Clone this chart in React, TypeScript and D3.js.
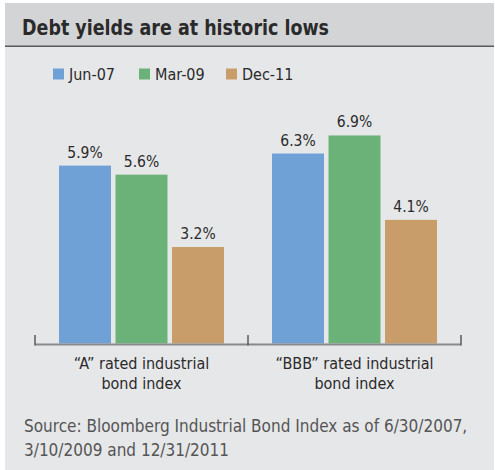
import React from "react";
import * as d3 from "d3";

const categories = ["A", "BBB"];
const categoryLines = [
  ["\u201CA\u201D rated industrial", "bond index"],
  ["\u201CBBB\u201D rated industrial", "bond index"],
];
const seriesNames = ["Jun-07", "Mar-09", "Dec-11"];
const seriesColors = ["#6fa0d6", "#6ab277", "#c99d69"];
const jun07 = [5.9, 6.3];
const mar09 = [5.6, 6.9];
const dec11 = [3.2, 4.1];
const seriesValues = [jun07, mar09, dec11];

const W = 495;
const H = 470;
const FONT = "'DejaVu Sans Condensed', 'Liberation Sans Narrow', sans-serif";

export default function App() {
  const x0 = d3.scaleBand<string>().domain(categories).range([35, 461]).padding(0);
  const x1 = d3
    .scaleBand<string>()
    .domain(seriesNames)
    .range([24, x0.bandwidth() - 24])
    .paddingInner(0.08)
    .paddingOuter(0);
  const y = d3.scaleLinear().domain([0, 8]).range([343.5, 102.3]);
  const baseY = y(0);

  return (
    <svg
      width={W}
      height={H}
      style={{ position: "absolute", left: 0, top: 0, display: "block" }}
      fontFamily={FONT}
    >
      <rect x={0} y={0} width={W} height={H} fill="#ffffff" />
      <rect x={5} y={3} width={489} height={467} fill="#e6e7e9" />
      <rect x={5} y={3} width={489} height={43} fill="#d3d4d6" />
      <rect x={5} y={45.5} width={489} height={1.5} fill="#5a5a5a" />
      <text
        x={22}
        y={35}
        fontSize={22}
        fontWeight="bold"
        fill="#2a2a2a"
        textLength={307}
        lengthAdjust="spacingAndGlyphs"
      >
        Debt yields are at historic lows
      </text>

      {/* legend */}
      {seriesNames.map((s, i) => {
        const lx = [53, 139, 226][i];
        return (
          <g key={s}>
            <rect x={lx} y={68.5} width={11} height={11} fill={seriesColors[i]} />
            <text x={lx + 16} y={80} fontSize={16} fill="#2a2a2a">
              {s}
            </text>
          </g>
        );
      })}

      {/* bars */}
      {categories.map((c, ci) => (
        <g key={c} transform={`translate(${x0(c)},0)`}>
          {seriesNames.map((s, si) => {
            const v = seriesValues[si][ci];
            const bx = x1(s)!;
            return (
              <g key={s}>
                <rect
                  x={bx}
                  y={y(v)}
                  width={x1.bandwidth()}
                  height={baseY - y(v)}
                  fill={seriesColors[si]}
                />
                <text
                  x={bx + x1.bandwidth() / 2}
                  y={y(v) - 8}
                  textAnchor="middle"
                  fontSize={15.5}
                  fill="#2a2a2a"
                >
                  {v.toFixed(1)}%
                </text>
              </g>
            );
          })}
        </g>
      ))}

      {/* axis */}
      <line x1={35} x2={461} y1={344.5} y2={344.5} stroke="#8a8a8a" strokeWidth={2} />
      {[35, 248, 461].map((tx) => (
        <line key={tx} x1={tx} x2={tx} y1={335} y2={345.5} stroke="#5a5a5a" strokeWidth={1.5} />
      ))}

      {/* category labels */}
      {categories.map((c, ci) => (
        <text
          key={c}
          x={x0(c)! + x0.bandwidth() / 2}
          textAnchor="middle"
          fontSize={16}
          fill="#2a2a2a"
        >
          <tspan x={x0(c)! + x0.bandwidth() / 2} y={369}>
            {categoryLines[ci][0]}
          </tspan>
          <tspan x={x0(c)! + x0.bandwidth() / 2} y={389}>
            {categoryLines[ci][1]}
          </tspan>
        </text>
      ))}

      {/* source */}
      <text fontSize={17} fill="#555555">
        <tspan x={24} y={432}>
          Source: Bloomberg Industrial Bond Index as of 6/30/2007,
        </tspan>
        <tspan x={24} y={456}>
          3/10/2009 and 12/31/2011
        </tspan>
      </text>
    </svg>
  );
}
